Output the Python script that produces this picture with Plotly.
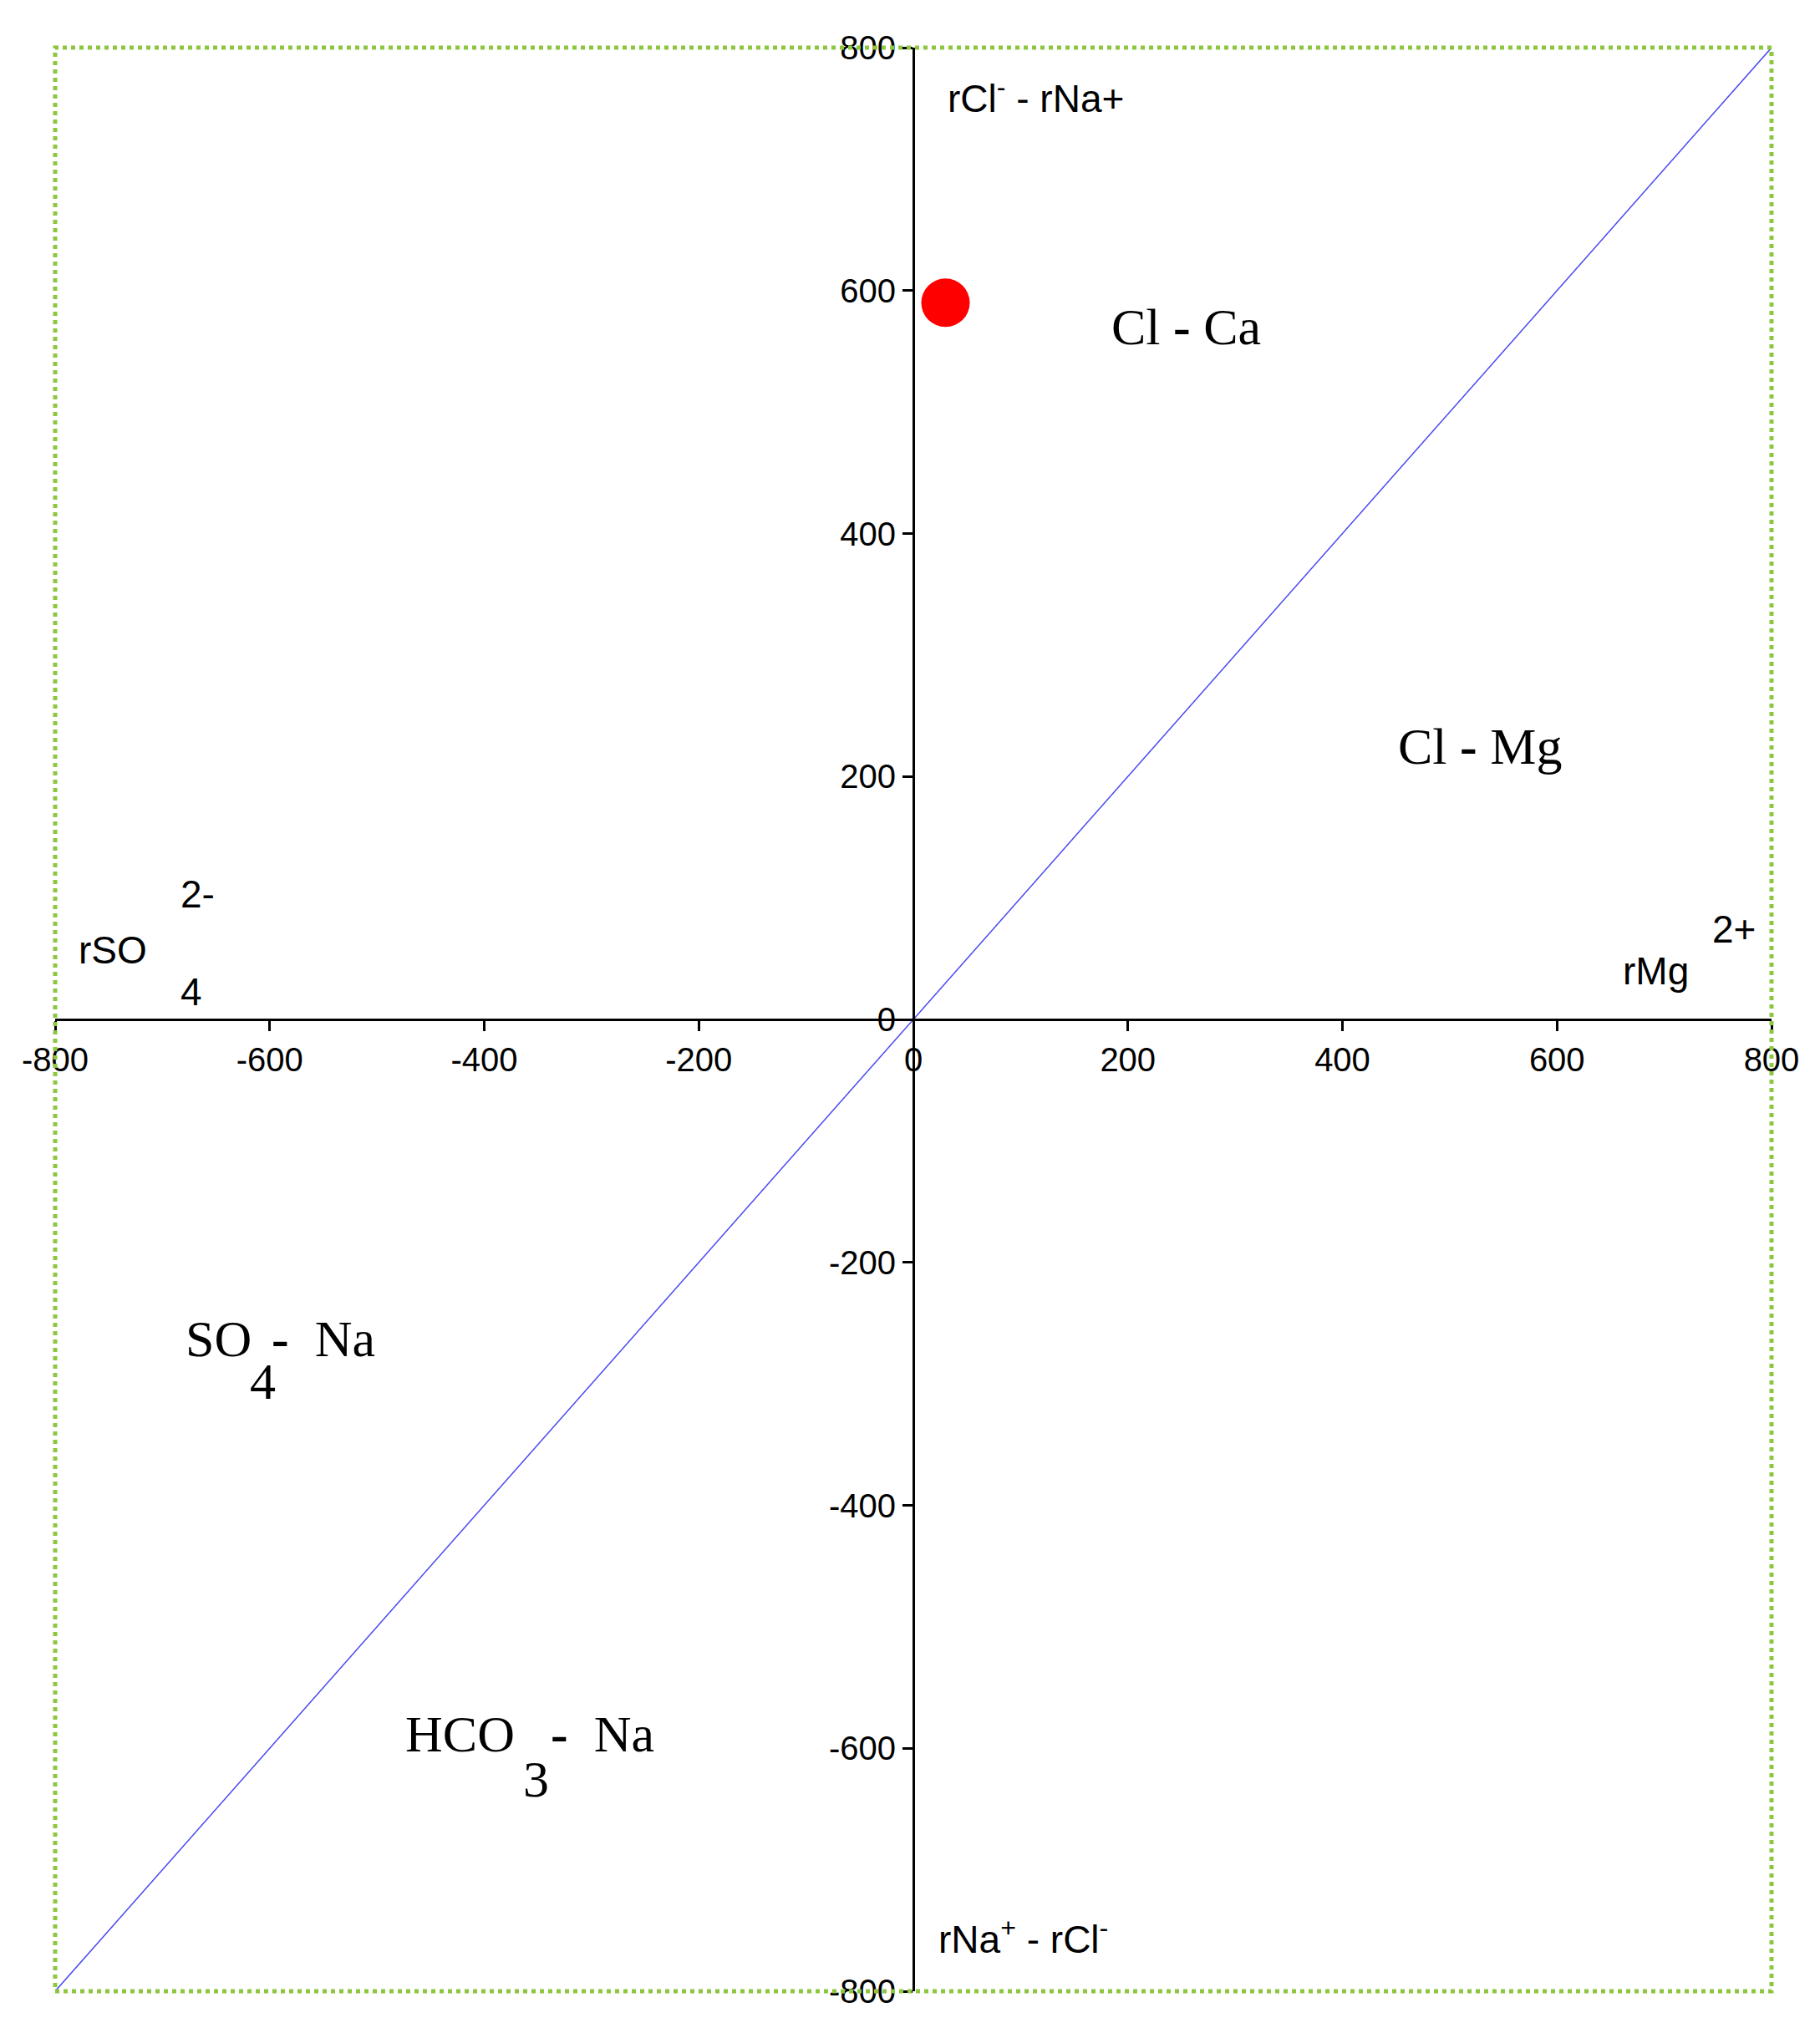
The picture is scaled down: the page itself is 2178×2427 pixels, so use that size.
import plotly.graph_objects as go

# sample point (rMg - rSO4 style coordinates)
pt_x = [30]
pt_y = [590]

diag_x = [-800, 800]
diag_y = [-800, 800]

ticks = [-800, -600, -400, -200, 0, 200, 400, 600, 800]
tick_text = ["-800", "-600", "-400", "-200", "0", "200", "400", "600", "800"]

fig = go.Figure()

fig.add_trace(go.Scatter(x=diag_x, y=diag_y, mode="lines",
                         line=dict(color="#4a4af0", width=1.5), showlegend=False))
fig.add_trace(go.Scatter(x=pt_x, y=pt_y, mode="markers",
                         marker=dict(color="#ff0000", size=58), showlegend=False))

axis_common = dict(
    range=[-800, 800], tickvals=ticks, ticktext=tick_text, showline=True,
    linecolor="black", linewidth=3,
    ticks="outside", ticklen=12, tickwidth=3, tickcolor="black",
    showgrid=False, zeroline=False, anchor="free", position=0.5,
    tickfont=dict(family="Liberation Sans, Arial", size=40, color="black"),
)
fig.update_xaxes(**axis_common)
fig.update_yaxes(**axis_common)

serif = dict(family="Liberation Serif, Times New Roman", size=62, color="black")
sans = dict(family="Liberation Sans, Arial", size=46, color="black")

def note(x, y, text, font, xanchor="left"):
    fig.add_annotation(x=x, y=y, text=text, showarrow=False, font=font,
                       xanchor=xanchor, yanchor="middle")

note(183, 570, "Cl <b>-</b> Ca", serif)
note(450, 225, "Cl <b>-</b> Mg", serif)
note(-680, -263, "SO", serif)
note(-620, -298, "4", serif)
note(-600, -263, "<b>-</b>  Na", serif)
note(-475, -588, "HCO", serif)
note(-365, -625, "3", serif)
note(-340, -588, "<b>-</b>  Na", serif)

note(30, 760, "rCl<sup>-</sup> - rNa+", sans)
note(22, -755, "rNa<sup>+</sup> - rCl<sup>-</sup>", sans)
note(-780, 57, "rSO", sans)
note(-685, 103, "2-", sans)
note(-685, 23, "4", sans)
note(660, 40, "rMg", sans)
note(743, 74, "2+", sans)

fig.add_shape(type="rect", xref="paper", yref="paper", x0=0, y0=0, x1=1, y1=1,
              line=dict(color="#8dc63f", width=5, dash="dot"))

fig.update_layout(
    width=2178, height=2427,
    margin=dict(l=58, r=66, t=49, b=52),
    plot_bgcolor="white", paper_bgcolor="white",
)

fig.write_html("out.html")
